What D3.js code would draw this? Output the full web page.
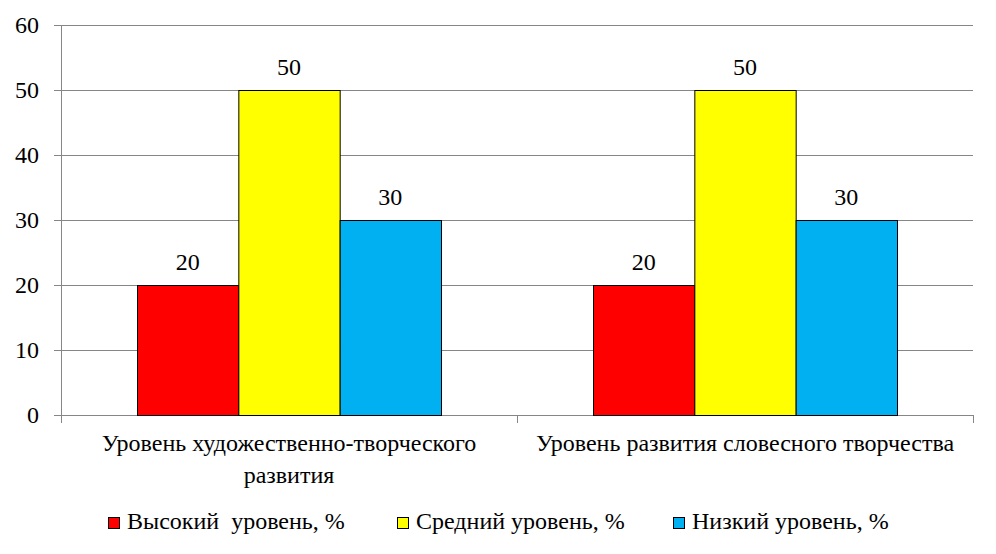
<!DOCTYPE html>
<html><head><meta charset="utf-8">
<script src="https://cdn.jsdelivr.net/npm/d3@7/dist/d3.min.js"></script>
<style>
body{margin:0;background:#fff}svg{display:block}
svg text, svg tspan{font-family:"Liberation Serif", serif !important;}
</style>
</head><body>
<svg id="c" width="996" height="554" font-family="Liberation Serif"></svg>
<script>
const categories = [["Уровень художественно-творческого", "развития"], ["Уровень развития словесного творчества"]];
const seriesNames = ["Высокий  уровень, %", "Средний уровень, %", "Низкий уровень, %"];
const seriesColors = ["#ff0000", "#ffff00", "#00b0f0"];
const values = [[20, 50, 30], [20, 50, 30]];
const yTicks = [0, 10, 20, 30, 40, 50, 60];

const FONT = "'Liberation Serif'";
const FS = "24px";
const svg = d3.select("#c");
const L = 61, R = 973, T = 25, B = 415;
const x0 = d3.scaleBand().domain(d3.range(categories.length)).range([L, R]).paddingInner(0).paddingOuter(0);
const x1 = d3.scaleBand().domain(d3.range(seriesNames.length)).range([0, x0.bandwidth()]).paddingInner(0).paddingOuter(0.75);
const y = d3.scaleLinear().domain([0, 60]).range([B, T]);
const txt = sel => sel.attr("font-family", "Liberation Serif").style("font-family", FONT, "important").style("font-size", FS).style("fill", "#000");

svg.append("g").selectAll("line").data(yTicks).join("line")
  .attr("x1", L - 7).attr("x2", R).attr("y1", d => y(d) + 0.5).attr("y2", d => y(d) + 0.5)
  .attr("stroke", "#868686").attr("stroke-width", 1);
svg.append("line").attr("x1", L + 0.5).attr("x2", L + 0.5).attr("y1", T).attr("y2", B + 8).attr("stroke", "#868686");
svg.append("g").selectAll("line").data(d3.range(categories.length + 1)).join("line")
  .attr("x1", d => (d < categories.length ? x0(d) : R) + 0.5).attr("x2", d => (d < categories.length ? x0(d) : R) + 0.5)
  .attr("y1", B).attr("y2", B + 8).attr("stroke", "#868686");
svg.append("g").selectAll("text").data(yTicks).join("text")
  .attr("x", 39).attr("y", d => y(d)).attr("dy", "0.35em").attr("text-anchor", "end")
  .call(txt).text(d => d);

const g = svg.append("g").selectAll("g").data(values).join("g").attr("transform", (d, i) => `translate(${x0(i)},0)`);
g.selectAll("rect").data(d => d).join("rect")
  .attr("x", (d, j) => x1(j) + 0.5).attr("width", x1.bandwidth())
  .attr("y", d => y(d) + 0.5).attr("height", d => B - y(d))
  .attr("fill", (d, j) => seriesColors[j]).attr("stroke", "#000").attr("stroke-width", 1);
g.selectAll("text").data(d => d).join("text")
  .attr("x", (d, j) => x1(j) + x1.bandwidth() / 2).attr("y", d => y(d) - 15)
  .attr("text-anchor", "middle").call(txt).text(d => d);

const cl = svg.append("g").selectAll("text").data(categories).join("text")
  .attr("x", (d, i) => x0(i) + x0.bandwidth() / 2).attr("y", 451).attr("text-anchor", "middle").call(txt);
cl.selectAll("tspan").data(d => d).join("tspan")
  .attr("x", function() { return d3.select(this.parentNode).attr("x"); })
  .attr("dy", (d, k) => k === 0 ? 0 : 32).text(d => d);

const legX = [108, 397, 673];
const lg = svg.append("g").selectAll("g").data(seriesNames).join("g").attr("transform", (d, i) => `translate(${legX[i]},517)`);
lg.append("rect").attr("x", 0.5).attr("y", 0.5).attr("width", 11).attr("height", 11)
  .attr("fill", (d, i) => seriesColors[i]).attr("stroke", "#000");
lg.append("text").attr("x", 19).attr("y", 12).call(txt).style("white-space", "pre").text(d => d);
</script>
</body></html>
